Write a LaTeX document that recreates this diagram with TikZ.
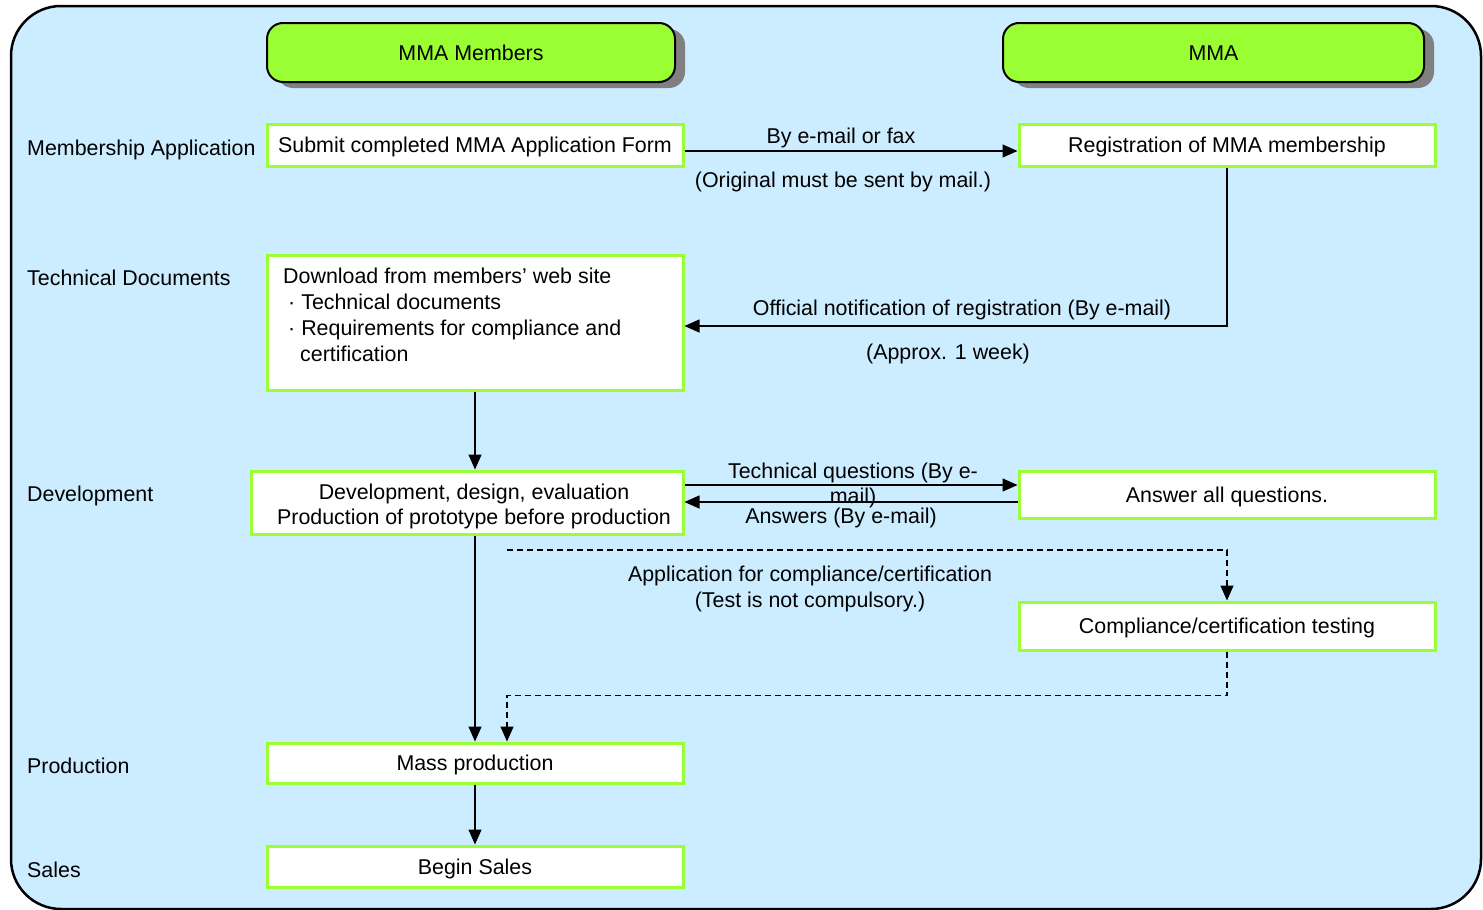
\documentclass[tikz,border=0pt]{standalone}
\usepackage{fontspec}
\setmainfont{Liberation Sans}
\usetikzlibrary{arrows.meta,shadows}

\definecolor{bgblue}{HTML}{CCECFF}
\definecolor{lgreen}{HTML}{99FF33}
\definecolor{shadowgrey}{HTML}{808080}

\begin{document}
\begin{tikzpicture}[x=1pt,y=-1pt,
  font=\fontsize{21.4}{25}\selectfont,
  caps/.style={text height=15.3pt,text depth=0pt},
  box/.style={draw=lgreen,line width=3pt,fill=white,inner sep=0pt,align=center,caps},
  header/.style={draw=black,line width=2pt,fill=lgreen,rounded corners=16pt,minimum height=59pt,inner sep=0pt,caps,
    drop shadow={shadow xshift=10pt,shadow yshift=-6pt,fill=shadowgrey,opacity=1}},
  arr/.style={-{Triangle[length=15pt,width=13pt]},line width=1.3pt},
  dsh/.style={arr,dash pattern=on 6pt off 4pt},
  rowlbl/.style={anchor=west,inner sep=0pt,caps},
  txt/.style={inner sep=0pt,align=center,caps},
  mtxt/.style={inner sep=0pt,align=center}
]
\useasboundingbox (0,0) rectangle (1483,910);
\draw[line width=2.5pt,fill=bgblue,rounded corners=50pt] (11,6) rectangle (1481,909);

% headers
\node[header,minimum width=408pt] (hmem) at (471,52.5) {MMA Members};
\node[header,minimum width=421pt] (hmma) at (1213.5,52.5) {MMA};

% row labels
\node[rowlbl] (r1) at (27,148) {Membership Application};
\node[rowlbl] (r2) at (27,278) {Technical Documents};
\node[rowlbl] (r3) at (27,494) {Development};
\node[rowlbl] (r4) at (27,766) {Production};
\node[rowlbl] (r5) at (27,870) {Sales};

% boxes
\node[box,minimum width=416pt,minimum height=42pt] (sub) at (475,145) {Submit completed MMA Application Form};
\node[box,minimum width=416pt,minimum height=42pt] (reg) at (1227,145) {Registration of MMA membership};
\node[box,minimum width=416pt,minimum height=135pt] (tech) at (475,322.5) {};
\node[anchor=north west,align=left,inner sep=0pt,font=\fontsize{21.4}{26}\selectfont] (techtxt) at (283,268)
  {Download from members’ web site\\
   \hspace*{5pt}· Technical documents\\
   \hspace*{5pt}· Requirements for compliance and\\
   \hspace*{17pt}certification};
\node[box,minimum width=432pt,minimum height=63pt] (dev) at (467,502.5) {};
\node[txt] (devl1) at (474,492) {Development, design, evaluation};
\node[txt] (devl2) at (474,517) {Production of prototype before production};
\node[box,minimum width=416pt,minimum height=47pt] (ans) at (1227,494.5) {Answer all questions.};
\node[box,minimum width=416pt,minimum height=48pt] (comp) at (1227,626) {Compliance/certification testing};
\node[box,minimum width=416pt,minimum height=40pt] (mass) at (475,763) {Mass production};
\node[box,minimum width=416pt,minimum height=41pt] (sales) at (475,866.5) {Begin Sales};

% connectors
\draw[arr] ([yshift=-6pt]sub.east) -- ([yshift=-6pt]reg.west);
\node[txt] (l1) at (841,136) {By e-mail or fax};
\node[txt] (l2) at (843,180) {(Original must be sent by mail.)};

\draw[arr] (reg.south) |- ([yshift=-3.5pt]tech.east);
\node[txt] (l3) at (962,308) {Official notification of registration (By e-mail)};
\node[txt] (l4) at (948,352) {(Approx. 1 week)};

\draw[arr] (tech.south) -- (tech.south |- dev.north);

\draw[arr] ([yshift=17.5pt]dev.east) -- ([yshift=17.5pt]dev.east -| ans.west);
\draw[arr] ([yshift=-7.5pt]ans.west) -- ([yshift=-7.5pt]ans.west -| dev.east);
\node[mtxt,font=\fontsize{21.4}{25}\selectfont] (l5) at (853,485.5) {Technical questions (By e-\\mail)};
\node[txt] (l6) at (841,516) {Answers (By e-mail)};

\coordinate (d1) at (507,550);
\draw[dsh] (d1) -| (comp.north);
\node[mtxt,font=\fontsize{21.4}{26}\selectfont] (l7) at (810,589) {Application for compliance/certification\\(Test is not compulsory.)};
\draw[dsh] (comp.south) -- ++(0,44) -| ([xshift=32pt]mass.north);

\draw[arr] (dev.south -| mass.north) -- (mass.north);
\draw[arr] (mass.south) -- (sales.north);
\end{tikzpicture}
\end{document}
